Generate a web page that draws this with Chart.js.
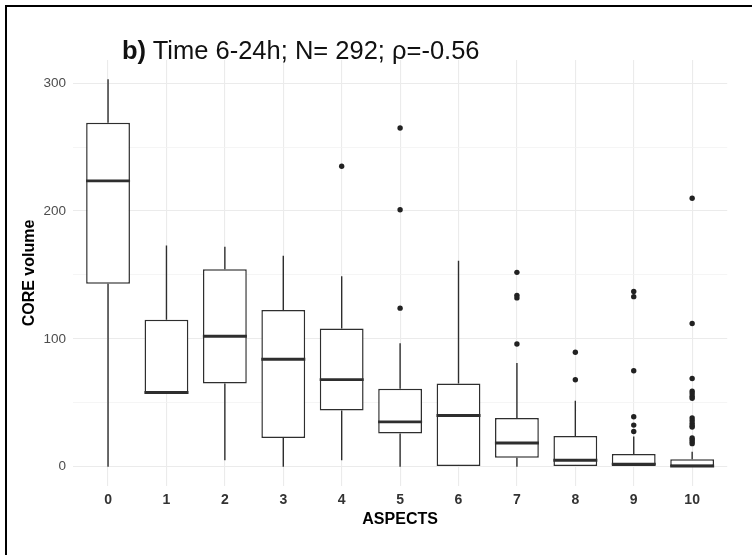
<!DOCTYPE html>
<html>
<head>
<meta charset="utf-8">
<script src="https://cdn.jsdelivr.net/npm/chart.js@4"></script>
<style>
  body { margin: 0; background: #fff; }
  #wrap { position: relative; width: 752px; height: 555px; }
  #frame { position: absolute; left: 5px; top: 5px; width: 760px; height: 560px;
           border-top: 2px solid #000; border-left: 2px solid #000; pointer-events: none; }
  #title { position: absolute; left: 122px; top: 38px; font-family: "Liberation Sans", Arial, sans-serif;
           font-size: 25.5px; line-height: 1; color: #111; white-space: nowrap; }
</style>
</head>
<body>
<div id="wrap">
  <canvas id="boxChart"></canvas>
  <div id="frame"></div>
  <div id="title"><b>b)</b> Time 6-24h; N= 292; ρ=-0.56</div>
</div>
<script>
// boxplot stats per number of aspects
const aspects = [0, 1, 2, 3, 4, 5, 6, 7, 8, 9, 10];
const lowWhisker = [0, 57, 5, 0, 5, 0, 0, 0, 0, 0, 0];
const q1 = [143, 57, 65, 22.5, 44, 26, 0, 7, 0, 0, 0];
const median = [223.5, 58, 102, 84, 68, 35, 40, 18.5, 5, 2, 0.5];
const q3 = [269, 115, 154.5, 122.5, 108, 61, 65, 38, 24, 9.8, 5.8];
const highWhisker = [303, 173, 172, 165, 149, 96.5, 161, 81, 51.5, 23.5, 11.7];
const outliers = [
  [], [], [], [],
  [235],
  [265, 201, 124],
  [],
  [152, 134, 132, 96],
  [89.5, 68],
  [137, 133, 75, 39, 32.5, 27.5],
  [210, 112, 69, 59, 57, 55, 53.5, 38, 36, 34, 32, 31, 22.5, 21, 19.5, 18]
];
const yTicksLabelled = [0, 100, 200, 300];

const INK = "#2e2e2e";
const FONT = "Liberation Sans, Arial";

const boxData = aspects.map((a, i) => ({ x: a, y: [q1[i], q3[i]] }));
const medianData = aspects.map((a, i) => ({ x: a, y: median[i] }));
const whiskerData = [];
aspects.forEach((a, i) => {
  whiskerData.push({ x: a, y: lowWhisker[i] }, { x: a, y: q1[i] }, { x: a, y: null });
  whiskerData.push({ x: a, y: q3[i] }, { x: a, y: highWhisker[i] }, { x: a, y: null });
});
const outlierData = [];
aspects.forEach((a, i) => outliers[i].forEach(v => outlierData.push({ x: a, y: v })));

new Chart(document.getElementById("boxChart"), {
  type: "bar",
  data: {
    datasets: [
      {
        type: "line", label: "median", data: medianData, showLine: false,
        pointStyle: "line", pointRadius: 22, pointBorderWidth: 2.8, borderColor: INK
      },
      {
        type: "line", label: "outliers", data: outlierData, showLine: false,
        pointRadius: 2.7, pointBorderWidth: 0, backgroundColor: "#222", borderColor: "#222"
      },
      {
        type: "bar", label: "box", data: boxData,
        backgroundColor: "#fff", borderColor: INK, borderWidth: 1.5, borderSkipped: false,
        categoryPercentage: 1, barPercentage: 0.75
      },
      {
        type: "line", label: "whisker", data: whiskerData, spanGaps: false,
        borderColor: INK, borderWidth: 1.4, pointRadius: 0
      }
    ]
  },
  options: {
    responsive: true,
    maintainAspectRatio: false,
    animation: false,
    events: [],
    layout: { padding: { top: 60, right: 21, left: 0, bottom: 0 } },
    plugins: { legend: { display: false }, tooltip: { enabled: false } },
    scales: {
      x: {
        type: "linear", min: -0.6, max: 10.6, offset: false,
        afterFit: s => { s.height = 69; },
        grid: { color: "#ebebeb", lineWidth: 1.1, drawTicks: false, offset: false },
        border: { display: false },
        ticks: {
          stepSize: 1, includeBounds: false, padding: 6, color: "#333",
          font: { family: FONT, size: 14, weight: "bold" }
        },
        title: {
          display: true, text: "ASPECTS", color: "#000",
          font: { family: FONT, size: 16, weight: "bold" },
          padding: { top: 0, bottom: 26 }
        }
      },
      y: {
        min: -15.15, max: 318.15,
        afterFit: s => { s.width = 73; },
        grid: {
          drawTicks: false,
          color: c => (yTicksLabelled.includes(c.tick.value) ? "#ebebeb" : "#f3f3f3"),
          lineWidth: c => (yTicksLabelled.includes(c.tick.value) ? 1.1 : 0.8)
        },
        border: { display: false },
        ticks: {
          stepSize: 50, includeBounds: false, padding: 7, color: "#4d4d4d",
          font: { family: FONT, size: 13.5 },
          callback: v => (yTicksLabelled.includes(v) ? String(v) : "")
        },
        title: {
          display: true, text: "CORE volume", color: "#000",
          font: { family: FONT, size: 16, weight: "bold" },
          padding: { top: 20, bottom: 0 }
        }
      }
    }
  }
});
</script>
</body>
</html>
